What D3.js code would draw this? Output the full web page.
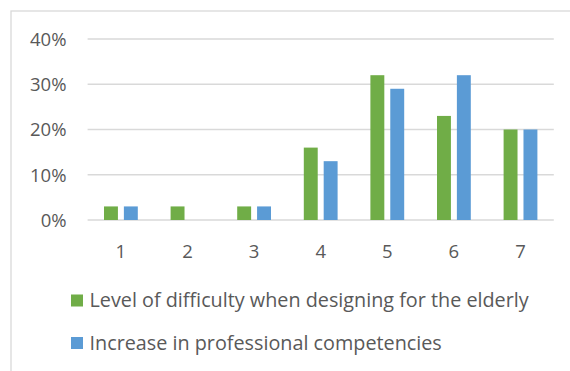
<!DOCTYPE html>
<html><head><meta charset="utf-8">
<script src="https://cdn.jsdelivr.net/npm/d3@7"></script>
<style>body{margin:0;background:#fff}svg{display:block}</style>
</head><body>
<svg id="c" width="570" height="371"></svg>
<script>
const categories = ["1","2","3","4","5","6","7"];
const difficulty = [3,3,3,16,32,23,20];
const competencies = [3,0,3,13,29,32,20];
const seriesNames = ["Level of difficulty when designing for the elderly","Increase in professional competencies"];
const colors = ["#70ad47","#5b9bd5"];
const yTicks = [0,10,20,30,40];

const svg = d3.select("#c");
const font = "'Open Sans', sans-serif";
const txt = "#595959";

svg.append("rect").attr("x",11).attr("y",11).attr("width",600).attr("height",400)
  .attr("fill","#fff").attr("stroke","#d9d9d9").attr("stroke-width",1.3);

const x = d3.scaleBand().domain(categories).range([87.6,553.8]).paddingInner(0).paddingOuter(0);
const y = d3.scaleLinear().domain([0,40]).range([220,39]);

const grid = svg.append("g");
grid.selectAll("line").data(yTicks).join("line")
  .attr("x1",87.6).attr("x2",553.8).attr("y1",d=>y(d)).attr("y2",d=>y(d))
  .attr("stroke","#d9d9d9").attr("stroke-width",1.3);

const yAxis = d3.axisLeft(y).tickValues(yTicks).tickFormat(d=>d+"%").tickSize(0).tickPadding(0);
const ya = svg.append("g").attr("transform","translate(66.5,0)").call(yAxis);
ya.select(".domain").remove();
ya.selectAll("text").attr("font-family",font).attr("font-size",18.5).attr("fill",txt).attr("dy","0.35em");

const xAxis = d3.axisBottom(x).tickSize(0).tickPadding(0);
const xa = svg.append("g").attr("transform","translate(0,252)").call(xAxis);
xa.select(".domain").remove();
xa.selectAll("text").attr("font-family",font).attr("font-size",18.5).attr("fill",txt).attr("dy","0.35em");

const sub = d3.scaleBand().domain([0,1]).range([0,33.8]).paddingInner(0.3);
const off = (x.bandwidth()-33.8)/2;
const data = [difficulty, competencies];
data.forEach((vals,si)=>{
  svg.append("g").selectAll("rect").data(vals).join("rect")
    .attr("x",(d,i)=>x(categories[i])+off+sub(si))
    .attr("width",sub.bandwidth())
    .attr("y",d=>y(d)).attr("height",d=>y(0)-y(d))
    .attr("fill",colors[si]);
});

const leg = svg.append("g");
const legY = [300.5, 343];
seriesNames.forEach((n,i)=>{
  leg.append("rect").attr("x",71).attr("y",legY[i]-6).attr("width",12).attr("height",12).attr("fill",colors[i]);
  leg.append("text").attr("x",89.5).attr("y",legY[i]).attr("dy","0.35em")
    .attr("font-family",font).attr("font-size",19.8).attr("fill",txt).text(n);
});
</script>
</body></html>
